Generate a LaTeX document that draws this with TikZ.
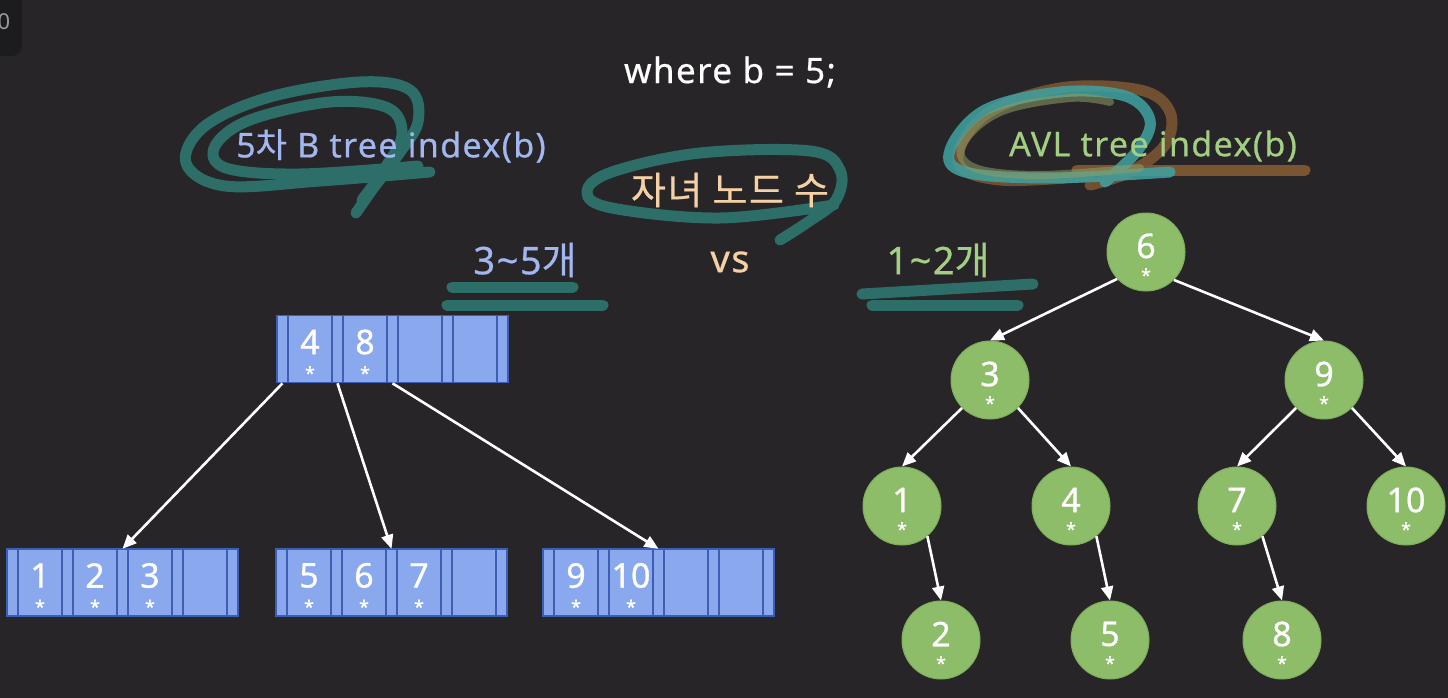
\documentclass[tikz,border=0pt]{standalone}
\usepackage{fontspec}
\setmainfont{Noto Sans}
\newfontfamily\lblf{Noto Sans}[LetterSpace=4,FakeBold=0.6]
\newfontfamily\numf{Noto Sans}[FakeBold=0.8]
\newfontfamily\kr{Noto Sans CJK KR}[LetterSpace=4,FakeBold=0.6]
\usetikzlibrary{arrows.meta}
\definecolor{bg}{HTML}{272528}
\definecolor{corner}{HTML}{1C1B1D}
\definecolor{bfill}{HTML}{8AA8EE}
\definecolor{bline}{HTML}{3C5FB4}
\definecolor{gfill}{HTML}{8DBD69}
\definecolor{gline}{HTML}{7FAE5C}
\definecolor{bluetxt}{HTML}{A2B6F0}
\definecolor{greentxt}{HTML}{A3CF85}
\definecolor{peach}{HTML}{F5D2A5}
\definecolor{teal}{HTML}{2D6E69}
\definecolor{lteal}{HTML}{3FA2A2}
\definecolor{brownsc}{HTML}{7A5532}
\definecolor{olive}{HTML}{8E9E66}
\newcommand{\bnode}[4]{%
  \node[bouter] (#1) at ({#2+115.5},#3) {};
  \foreach \i in {0,...,4} \node[bptr] (#1-p\i) at ({#2+5.5+55*\i},#3) {};
  \foreach \i in {1,...,4} \node[bcell] (#1-k\i) at ({#2+33+55*(\i-1)},#3) {};
  \foreach \k [count=\i] in {#4} {
    \node[bnum] (#1-t\i) at ({#2+33+55*(\i-1)},{#3-7}) {\k};
    \node[star] (#1-s\i) at ({#2+33+55*(\i-1)},{#3+24}) {*};
  }%
}
\newcommand{\avl}[3]{%
  \node[avlc] (#1) at (#2) {};
  \node[bnum] (#1-t) at ([yshift=6pt]#1.center) {#3};
  \node[star] (#1-s) at ([yshift=-23pt]#1.center) {*};
}
\begin{document}
\begin{tikzpicture}[x=1pt,y=-1pt,
  bouter/.style={minimum width=231pt,minimum height=67pt,inner sep=0pt},
  bptr/.style={draw=bline,fill=bfill,line width=1.6pt,minimum width=11pt,minimum height=67pt,inner sep=0pt},
  bcell/.style={draw=bline,fill=bfill,line width=1.6pt,minimum width=44pt,minimum height=67pt,inner sep=0pt},
  bnum/.style={text=white,font=\numf\fontsize{34}{36}\selectfont,inner sep=0pt},
  star/.style={text=white,font=\numf\fontsize{18}{18}\selectfont,inner sep=0pt},
  avlc/.style={circle,fill=gfill,draw=gline,line width=1pt,minimum size=78pt,inner sep=0pt},
  arr/.style={draw=white,line width=2.6pt,-{Triangle[length=14pt,width=12pt]}},
  scrib/.style={draw=teal,line width=11pt,line cap=round,line join=round},
  lbl/.style={font=\lblf\fontsize{34}{36}\selectfont,inner sep=0pt},
  biglbl/.style={font=\lblf\fontsize{38}{40}\selectfont,inner sep=0pt}]
\useasboundingbox (0,0) rectangle (1448,698);
\fill[bg] (0,0) rectangle (1448,698);
\fill[corner,rounded corners=10pt] (-30,-30) rectangle (22,56);
\node[text=gray!80,font=\fontsize{22}{22}\selectfont,inner sep=0pt] (cornertxt) at (4,22) {0};

% scribbles: left
\draw[scrib] plot[smooth,tension=0.6] coordinates {(430,172) (320,181) (225,186) (186,163) (205,126) (270,97) (360,82) (410,90) (418,122) (398,155) (372,190) (356,213)};
\draw[scrib] plot[smooth,tension=0.6] coordinates {(418,166) (300,174) (226,168) (215,146) (250,120) (330,102) (388,108) (402,135) (385,168) (362,200)};
% middle
\draw[scrib] plot[smooth,tension=0.6] coordinates {(780,240) (808,222) (836,200) (840,170) (810,151) (700,153) (612,172) (587,192) (612,208) (720,218) (834,205)};
% underlines
\draw[scrib] (452,287) -- (573,287);
\draw[scrib] (447,305) -- (603,305);
\draw[scrib] (862,294) -- (1033,284);
\draw[scrib] (872,305) -- (1018,305);
% AVL scribbles
\draw[scrib,draw=brownsc] (1077,170) -- (1305,170);
\draw[scrib,draw=brownsc,opacity=0.9] plot[smooth,tension=0.6] coordinates {(1090,176) (1000,180) (958,162) (985,115) (1060,88) (1140,90) (1170,112) (1165,145) (1130,172) (1090,185)};
\draw[scrib,draw=lteal,opacity=0.85] plot[smooth,tension=0.6] coordinates {(1170,172) (1050,178) (965,172) (950,150) (985,110) (1060,92) (1125,96) (1150,120) (1138,150) (1105,182)};
\draw[scrib,draw=olive,opacity=0.55,line width=8pt] plot[smooth,tension=0.6] coordinates {(1140,168) (1040,175) (975,168) (962,145) (1000,112) (1070,98) (1110,102)};

% texts
\node[lbl,text=white,font=\lblf\fontsize{35}{37}\selectfont] (where) at (730,72) {where b = 5;};
\node[lbl,text=bluetxt] (btitle) at (391,146) {5{\kr 차} B tree index(b)};
\node[lbl,text=greentxt] (atitle) at (1153,146) {AVL tree index(b)};
\node[biglbl,text=peach] (child) at (730,190) {\kr 자녀 노드 수};
\node[biglbl,text=bluetxt] (bcount) at (525,260) {3\textasciitilde5{\kr 개}};
\node[biglbl,text=peach] (vs) at (730,262) {vs};
\node[biglbl,text=greentxt] (acount) at (938,260) {1\textasciitilde2{\kr 개}};

% B tree
\bnode{root}{277}{349}{4,8}
\bnode{la}{7}{582.5}{1,2,3}
\bnode{lb}{276}{582.5}{5,6,7}
\bnode{lc}{543}{582.5}{9,10}
\draw[arr] (root-p0.south) -- (la.north);
\draw[arr] (root-p1.south) -- (lb.north);
\draw[arr] (root-p2.south) -- (lc.north);

% AVL tree
\avl{n6}{1146,252}{6}
\avl{n3}{990,380}{3}
\avl{n9}{1324,380}{9}
\avl{n1}{902,506}{1}
\avl{n4}{1071,506}{4}
\avl{n7}{1237,506}{7}
\avl{n10}{1406,506}{10}
\avl{n2}{941,640}{2}
\avl{n5}{1110,640}{5}
\avl{n8}{1282,640}{8}
\draw[arr] (n6.-137) -- (n3.north);
\draw[arr] (n6.-45) -- (n9.north);
\draw[arr] (n3.-135) -- (n1.north);
\draw[arr] (n3.-45) -- (n4.north);
\draw[arr] (n9.-135) -- (n7.north);
\draw[arr] (n9.-45) -- (n10.north);
\draw[arr] (n1.-50) -- (n2.north);
\draw[arr] (n4.-50) -- (n5.north);
\draw[arr] (n7.-50) -- (n8.north);
\end{tikzpicture}
\end{document}
